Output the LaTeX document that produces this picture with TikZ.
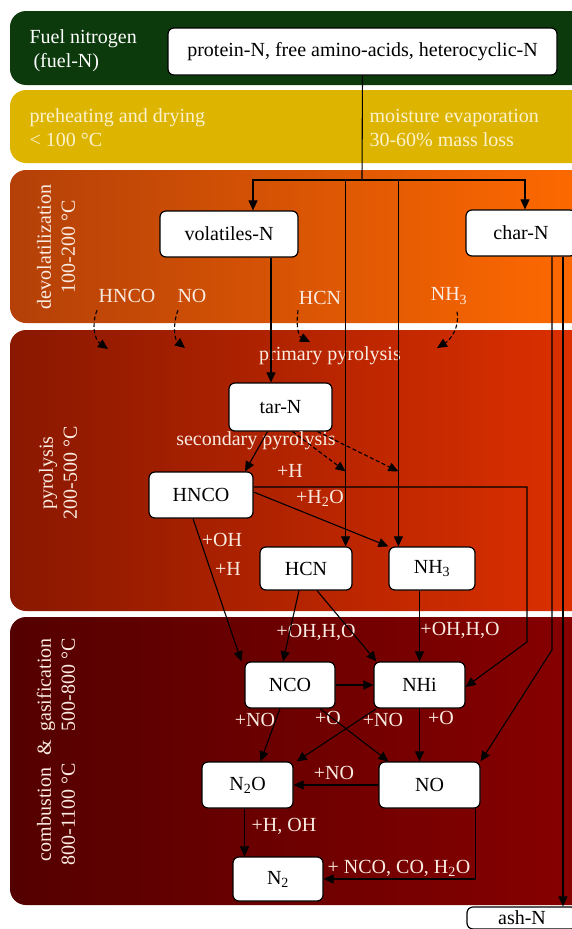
\documentclass[tikz,border=0pt]{standalone}
\usepackage{fontspec}
\setmainfont{Liberation Serif}
\usetikzlibrary{arrows.meta}

\definecolor{fuelgreen}{RGB}{12,58,12}
\definecolor{dryyellow}{RGB}{221,181,0}
\definecolor{devleft}{RGB}{180,64,8}
\definecolor{devright}{RGB}{255,106,0}
\definecolor{pyrleft}{RGB}{138,24,0}
\definecolor{pyrright}{RGB}{222,48,0}
\definecolor{comleft}{RGB}{84,0,0}
\definecolor{comright}{RGB}{136,0,0}
\definecolor{paletext}{RGB}{250,236,226}
\definecolor{drytext}{RGB}{252,242,205}

\begin{document}
\begin{tikzpicture}[x=1pt, y=-1pt, font=\fontsize{20}{24}\selectfont,
        box/.style={draw, line width=1.2pt, fill=white, rounded corners=6pt, inner sep=2pt},
        lab/.style={text=paletext, inner sep=1pt},
        band/.style={rounded corners=16pt},
        every path/.style={line width=1.1pt},
        >={Triangle[length=10pt,width=9pt]}]
        \useasboundingbox (0,0) rectangle (571,929);

        \fill[band, fuelgreen] (10,11) rectangle (590,85);
        \fill[band, dryyellow] (10,90) rectangle (590,163);
        \shade[band, left color=devleft, right color=devright] (10,170) rectangle (590,323);
        \shade[band, left color=pyrleft, right color=pyrright] (10,330) rectangle (590,611);
        \shade[band, left color=comleft, right color=comright] (10,617) rectangle (590,905);

        \node[lab, align=left, anchor=west, text=white] (fuellab) at (28,51) {Fuel nitrogen\\\hspace{4pt}(fuel-N)};
        \node[lab, align=left, anchor=west, text=drytext] (drylab) at (28,128) {preheating and drying\\< 100 °C};
        \node[lab, align=left, anchor=west, text=drytext] (moistlab) at (368,128) {moisture evaporation\\30-60\% mass loss};
        \node[lab, rotate=90, align=center] (devlab) at (56,247) {devolatilization\\100-200 °C};
        \node[lab, rotate=90, align=center] (pyrlab) at (58,473) {pyrolysis\\200-500 °C};
        \node[lab, rotate=90] (comlab) at (58,752) {\begin{tabular}{@{}c@{\hspace{8pt}}c@{\hspace{8pt}}c@{}}combustion & \& & gasification\\800-1100 °C & & 500-800 °C\end{tabular}};

        \begin{scope}[every node/.append style={box}]
                \node[minimum width=389pt, minimum height=47pt] (prot) at (362.5,51.5) {protein-N, free amino-acids, heterocyclic-N};
                \node[minimum width=138pt, minimum height=46pt] (volat) at (229,234) {volatiles-N};
                \node[minimum width=110pt, minimum height=46pt] (charn) at (521,233) {char-N};
                \node[minimum width=103pt, minimum height=48pt] (tarn) at (280.5,407) {tar-N};
                \node[minimum width=104pt, minimum height=46pt] (hnco) at (201,495) {HNCO};
                \node[minimum width=92pt, minimum height=43pt] (hcn) at (306,568.5) {HCN};
                \node[minimum width=86pt, minimum height=43pt] (nhthree) at (432,568.5) {NH\textsubscript{3}};
                \node[minimum width=90pt, minimum height=46pt] (nco) at (290,685) {NCO};
                \node[minimum width=91pt, minimum height=46pt] (nhi) at (419.5,685) {NHi};
                \node[minimum width=91pt, minimum height=46pt] (ntwoo) at (247.5,785) {N\textsubscript{2}O};
                \node[minimum width=101pt, minimum height=46pt] (no) at (429.5,785) {NO};
                \node[minimum width=90pt, minimum height=44pt] (ntwo) at (278,879) {N\textsubscript{2}};
                \node[minimum width=110pt, minimum height=22pt, inner sep=1pt] (ash) at (522,918) {ash-N};
        \end{scope}

        \begin{scope}[every node/.append style={lab}]
                \node (lhnco) at (127,296) {HNCO};
                \node (lno) at (192,296) {NO};
                \node (lhcn) at (320,298) {HCN};
                \node (lnh) at (449,296) {NH\textsubscript{3}};
                \node (primlab) at (330,356) {primary pyrolysis};
                \node (seclab) at (256,441) {secondary pyrolysis};
                \node (lplush) at (290,471) {+H};
                \node (lplushtwoo) at (320,498) {+H\textsubscript{2}O};
                \node (lploh) at (222,540) {+OH};
                \node (lplushb) at (228,569) {+H};
                \node (lohone) at (316,632) {+OH,H,O};
                \node (lohtwo) at (460,630) {+OH,H,O};
                \node (lnoa) at (255,720) {+NO};
                \node (loa) at (328,718) {+O};
                \node (lnob) at (383,720) {+NO};
                \node (lob) at (441,718) {+O};
                \node (lnoc) at (334,773) {+NO};
                \node (lhoh) at (284,826) {+H, OH};
                \node (lnco) at (399,868) {+ NCO, CO, H\textsubscript{2}O};
        \end{scope}

        \coordinate (split) at (362,180);
        \coordinate (hcnin) at ([xshift=-7pt]hcn.north east);
        \coordinate (nhin) at ([xshift=10pt]nhthree.north west);
        \coordinate (volout) at ([xshift=42pt]volat.south);
        \coordinate (ntwoout) at ([xshift=-3pt]ntwoo.south);
        \coordinate (charout) at ([xshift=42pt]charn.south);
        \coordinate (hnbend) at (527,642);
        \coordinate (charbend) at (552,650);
        \coordinate (thnco) at (108,349);
        \coordinate (tno) at (185,348);
        \coordinate (thcn) at (310,342);
        \coordinate (tnh) at (437,348);

        \draw (prot.south) -- (split);
        \draw[->] (split) -| ([xshift=24pt]volat.north);
        \draw[->] (split) -| ([xshift=4pt]charn.north);
        \draw[->] (hcnin |- split) -- (hcnin);
        \draw[->] (nhin |- split) -- (nhin);

        \begin{scope}[dashed, dash pattern=on 4pt off 2.5pt]
                \draw[->] ([xshift=-30pt,yshift=-6pt]lhnco.south) .. controls (91,326) and (95,340) .. (thnco);
                \draw[->] ([xshift=-14pt,yshift=-6pt]lno.south) .. controls (172,326) and (175,340) .. (tno);
                \draw[->] ([xshift=-22pt,yshift=-4pt]lhcn.south) .. controls (296,324) and (298,336) .. (thcn);
                \draw[->] ([xshift=8pt,yshift=-6pt]lnh.south) .. controls (460,328) and (450,340) .. (tnh);
                \draw[->] ([xshift=12pt]tarn.south) -- (hcnin |- hnco.north);
                \draw[->] ([xshift=37pt]tarn.south) -- (nhin |- hnco.north);
        \end{scope}

        \draw[->] (volout) -- (volout |- tarn.north);
        \draw[->] ([xshift=-13pt]tarn.south) -- ([xshift=44pt]hnco.north);
        \draw[->] ([yshift=8pt]hnco.east) -| (hnbend) -- ([yshift=-2pt]nhi.east);
        \draw[->] ([yshift=3pt]hnco.east) -- (nhthree.north west);
        \draw[->] ([xshift=-8pt]hnco.south) -- ([xshift=-3pt]nco.north west);
        \draw[->] ([xshift=-7pt]hcn.south) -- ([xshift=-7pt]nco.north);
        \draw[->] ([xshift=11pt]hcn.south) -- ([xshift=3pt]nhi.north west);
        \draw[->] (nhi.north |- nhthree.south) -- (nhi.north);
        \draw[->] (nco.east) -- (nhi.west);
        \draw[->] ([xshift=-10pt]nco.south) -- ([xshift=13pt]ntwoo.north);
        \draw[->] ([xshift=30pt]nco.south) -- ([xshift=10pt]no.north west);
        \draw[->] ([xshift=3pt]nhi.south west) -- ([xshift=3pt]ntwoo.north east);
        \draw[->] (nhi.south) -- (nhi.south |- no.north);
        \draw[->] (no.west) -- (ntwoo.east);
        \draw[->] (ntwoout) -- (ntwoout |- ntwo.north);
        \draw[->] ([xshift=-5pt]no.south east) |- (ntwo.east);
        \draw[->] ([xshift=31pt]charn.south) -- (charbend) -- (no.north east);
        \draw[->] (charout) -- (charout |- ash.north);
\end{tikzpicture}
\end{document}
